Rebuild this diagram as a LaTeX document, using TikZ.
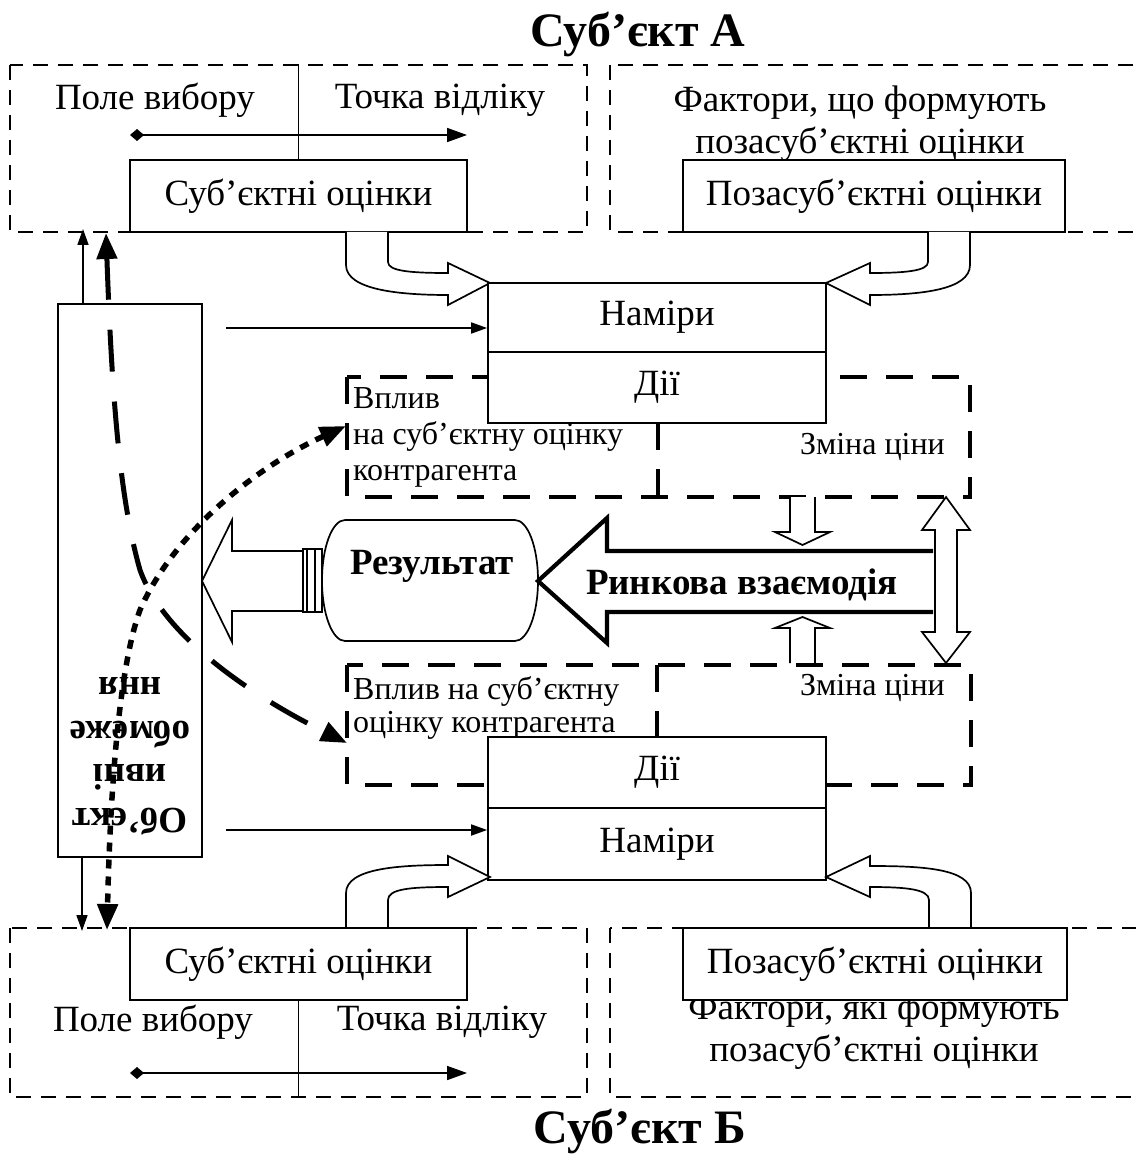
\documentclass[tikz,border=0pt]{standalone}
\usepackage{fontspec}
\setmainfont{Liberation Serif}
\usetikzlibrary{arrows.meta}
\newcommand\fbody{\fontsize{37}{42}\selectfont}
\newcommand\fsmall{\fontsize{32}{36}\selectfont}
\newcommand\fsmallb{\fontsize{32}{33}\selectfont}
\newcommand\ftitle{\fontsize{48}{52}\selectfont\bfseries}
\newcommand\fbig{\fontsize{37}{43.5}\selectfont\bfseries}
\begin{document}
\begin{tikzpicture}[x=1pt,y=-1pt,
  box/.style={draw, line width=1.7pt, fill=white, inner sep=0pt, font=\fbody},
  tdash/.style={line width=1.3pt, dash pattern=on 15pt off 10pt},
  Tdash/.style={line width=4.2pt, dash pattern=on 27pt off 19pt},
  hollow/.style={draw, line width=1.7pt, fill=white, line join=miter},
  tarrow/.style={line width=1.7pt, -{Triangle[length=16pt,width=11pt]}},
  dblarrow/.style={line width=1.7pt, {Diamond[length=14pt,width=12pt]}-{Triangle[length=20pt,width=14pt]}},
  longdash/.style={line width=5pt, dash pattern=on 42pt off 30pt, {Triangle[length=26pt,width=20pt]}-{Triangle[length=26pt,width=20pt]}},
  dotln/.style={line width=5.5pt, dash pattern=on 9pt off 8pt, {Triangle[length=26pt,width=20pt]}-{Triangle[length=26pt,width=20pt]}},
  lbl/.style={inner sep=0pt, font=\fbody, align=center},
  slbl/.style={inner sep=0pt, align=left},
]
\useasboundingbox (0,0) rectangle (1135,1158);
\fill[white] (0,0) rectangle (1135,1158);

% titles
\node[inner sep=0pt, font=\ftitle] (titA) at (638,35) {Суб’єкт А};
\node[inner sep=0pt, font=\ftitle] (titB) at (640,1131) {Суб’єкт Б};

% ---------- top (subject A) ----------
\draw[tdash] (10,65) rectangle (587,232);
\draw[tdash] (610,65) rectangle (1142,232);
\node[lbl] (poleA) at (155,100) {Поле вибору};
\node[lbl] (tochA) at (440,100) {Точка відліку};
\node[lbl] (faktA) at (860,124) {Фактори, що формують\\позасуб’єктні оцінки};
\node[box, minimum width=337pt, minimum height=72pt] (subA) at (298.5,196) {Суб’єктні оцінки};
\node[box, minimum width=382pt, minimum height=72pt] (pozA) at (874,196) {Позасуб’єктні оцінки};
\draw[line width=1pt] (subA.north) -- ++(0,-95);
\coordinate (dA1) at (130,135);
\coordinate (dA2) at (467,135);
\draw[dblarrow] (dA1) -- (dA2);

% U arrows A
\draw[hollow] (346,232) -- (346,265) .. controls (346,290) and (400,295) .. (448,295)
  -- (448,305) -- (490,283) -- (448,263) -- (448,273)
  .. controls (410,273) and (388,271) .. (388,262) -- (388,232);
\draw[hollow] (970,232) -- (970,265) .. controls (970,290) and (920,295) .. (870,295)
  -- (870,305) -- (826,283) -- (870,263) -- (870,273)
  .. controls (905,273) and (928,271) .. (928,262) -- (928,232);

% thick dashed boxes A
\draw[Tdash] (347,377) rectangle (970,497);
\draw[Tdash] (658,423) -- (658,497);
\node[box, minimum width=338pt, minimum height=69pt] (namA) at (657,317.5) {Наміри};
\node[box, minimum width=338pt, minimum height=71pt] (diiA) at (657,387.5) {Дії};
\node[slbl, font=\fsmall, anchor=north west] (vplA) at (353,387) {Вплив\\на суб’єктну оцінку\\контрагента};
\node[inner sep=0pt, font=\fsmall, anchor=east] (zmA) at (945,447) {Зміна ціни};

% ---------- middle ----------
\draw[hollow] (202,581) -- (232,520) -- (232,551) -- (303,551) -- (303,611) -- (232,611) -- (232,642) -- cycle;
\draw[line width=1.4pt, fill=white] (303,549) rectangle (307,612);
\draw[line width=1.4pt, fill=white] (307,549) rectangle (315,612);
\draw[line width=1.4pt, fill=white] (315,549) rectangle (322,612);
\draw[line width=1.7pt, fill=white] (345,520) -- (515,520)
  arc[start angle=-90, end angle=90, x radius=23, y radius=60.5]
  -- (345,641)
  arc[start angle=90, end angle=270, x radius=23, y radius=60.5] -- cycle;
\node[inner sep=0pt, font=\fbig] (res) at (432,566) {Результат};

\draw[line width=4.2pt, line join=miter, fill=white] (933,551) -- (607,551) -- (607,518) -- (538,581) -- (607,643) -- (607,612) -- (933,612);
\node[inner sep=0pt, font=\fbig] (rynok) at (742,585) {Ринкова взаємодія};

\draw[hollow] (946,497) -- (970,530) -- (957,530) -- (957,632) -- (970,632) -- (946,663)
  -- (922,632) -- (935,632) -- (935,530) -- (922,530) -- cycle;
\draw[hollow] (790,497) -- (790,532) -- (775,532) -- (802.5,545) -- (830,532) -- (815,532) -- (815,497);
\draw[hollow] (790,663) -- (790,628) -- (775,628) -- (802.5,617) -- (830,628) -- (815,628) -- (815,663);

% ---------- thick dashed boxes B ----------
\draw[Tdash] (347,665) rectangle (971,785);
\draw[Tdash] (657,665) -- (657,737);
\node[slbl, font=\fsmallb, anchor=north west] (vplB) at (353,676) {Вплив на суб’єктну\\оцінку контрагента};
\node[inner sep=0pt, font=\fsmall, anchor=east] (zmB) at (945,688) {Зміна ціни};
\node[box, minimum width=338pt, minimum height=71pt] (diiB) at (657,772.5) {Дії};
\node[box, minimum width=338pt, minimum height=72pt] (namB) at (657,844) {Наміри};

% U arrows B
\draw[hollow] (346,928) -- (346,893) .. controls (346,868) and (400,865) .. (448,865)
  -- (448,856) -- (490,877) -- (448,897) -- (448,887)
  .. controls (410,887) and (388,889) .. (388,900) -- (388,928);
\draw[hollow] (971,928) -- (971,893) .. controls (971,868) and (920,866) .. (870,866)
  -- (870,856) -- (826,877) -- (870,897) -- (870,887)
  .. controls (905,887) and (929,889) .. (929,900) -- (929,928);

% ---------- bottom (subject B) ----------
\draw[tdash] (10,928) rectangle (587,1097);
\draw[tdash] (610,928) rectangle (1142,1097);
\node[lbl] (poleB) at (153,1022) {Поле вибору};
\node[lbl] (tochB) at (442,1022) {Точка відліку};
\node[lbl] (faktB) at (874,1032) {Фактори, які формують\\позасуб’єктні оцінки};
\node[box, minimum width=337pt, minimum height=72pt] (subB) at (298.5,964) {Суб’єктні оцінки};
\node[box, minimum width=384pt, minimum height=72pt] (pozB) at (875,964) {Позасуб’єктні оцінки};
\draw[line width=1pt] (subB.south) -- ++(0,97);
\coordinate (dB1) at (130,1073);
\coordinate (dB2) at (467,1073);
\draw[dblarrow] (dB1) -- (dB2);

% ---------- objective constraints ----------
\node[box, minimum width=144pt, minimum height=553pt] (obj) at (130,580.5) {};
\node[inner sep=0pt, font=\fbig, align=center, rotate=180] (objt) at (130,756) {Об’єкт\\ивні\\обмеже\\ння};

\coordinate (oTop) at (83,229);
\coordinate (oBot) at (82,931);
\draw[tarrow] (obj.north -| oTop) -- (oTop);
\draw[tarrow] (obj.south -| oBot) -- (oBot);
\coordinate (tA) at (226,328);
\coordinate (tB) at (226,830);
\draw[tarrow] (tA) -- (tA -| namA.west);
\draw[tarrow] (tB) -- (tB -| namB.west);

% curved dashed / dotted connectors
\coordinate (ldTop) at (106,233);
\coordinate (ldBot) at (347,743);
\draw[longdash] (ldTop) .. controls (112,400) and (120,500) .. (140,570)
  .. controls (165,640) and (260,700) .. (ldBot);
\coordinate (dtTop) at (346,426);
\coordinate (dtBot) at (107,930);
\draw[dotln] (dtTop) .. controls (260,465) and (175,530) .. (140,610)
  .. controls (118,670) and (110,800) .. (dtBot);
\end{tikzpicture}
\end{document}
